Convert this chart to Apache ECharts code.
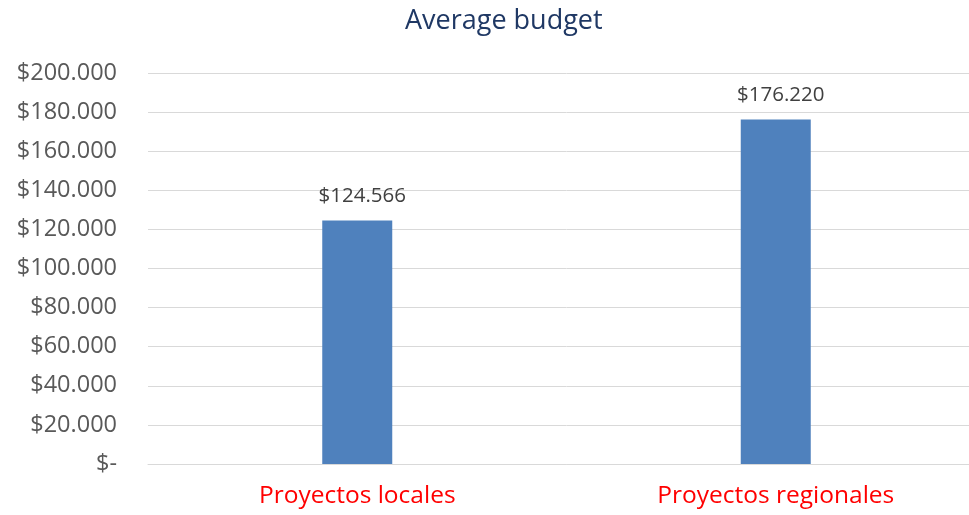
<!DOCTYPE html>
<html>
<head>
<meta charset="utf-8">
<script src="https://cdn.jsdelivr.net/npm/echarts@6/dist/echarts.min.js"></script>
<style>html,body{margin:0;padding:0;background:#fff;overflow:hidden}#c{width:985px;height:515px}</style>
</head>
<body>
<div id="c"></div>
<script>
const categories = ['Proyectos locales', 'Proyectos regionales'];
const values = [124566, 176220];
const yMin = 0, yMax = 200000, yStep = 20000;

function fmt(v) {
  if (v === 0) return '$-';
  return '$' + String(Math.round(v)).replace(/\B(?=(\d{3})+(?!\d))/g, '.');
}

const chart = echarts.init(document.getElementById('c'));
chart.setOption({
  animation: false,
  title: {
    text: 'Average budget',
    left: 400,
    top: 3,
    textStyle: { color: '#1f3864', fontSize: 27, fontWeight: 'normal', fontFamily: 'Open Sans' }
  },
  grid: { left: 148, top: 73, right: 0, bottom: 51, containLabel: false },
  xAxis: {
    type: 'category',
    data: categories,
    axisLine: { lineStyle: { color: '#d9d9d9', width: 1 } },
    axisTick: { show: false },
    axisLabel: { color: '#ff0000', fontSize: 24.5, fontFamily: 'Open Sans', margin: 20 }
  },
  yAxis: {
    type: 'value',
    min: yMin, max: yMax, interval: yStep,
    axisLine: { show: false },
    axisTick: { show: false },
    splitLine: { lineStyle: { color: '#d9d9d9', width: 1 } },
    axisLabel: { color: '#595959', fontSize: 23.5, fontFamily: 'Open Sans', margin: 31, formatter: fmt }
  },
  series: [{
    type: 'bar',
    data: values,
    barWidth: 70,
    itemStyle: { color: '#4f81bd' },
    label: {
      show: true, position: 'top', distance: 14, offset: [5, 0],
      color: '#404040', fontSize: 20.5, fontFamily: 'Open Sans',
      formatter: p => fmt(p.value)
    }
  }]
});
</script>
</body>
</html>
